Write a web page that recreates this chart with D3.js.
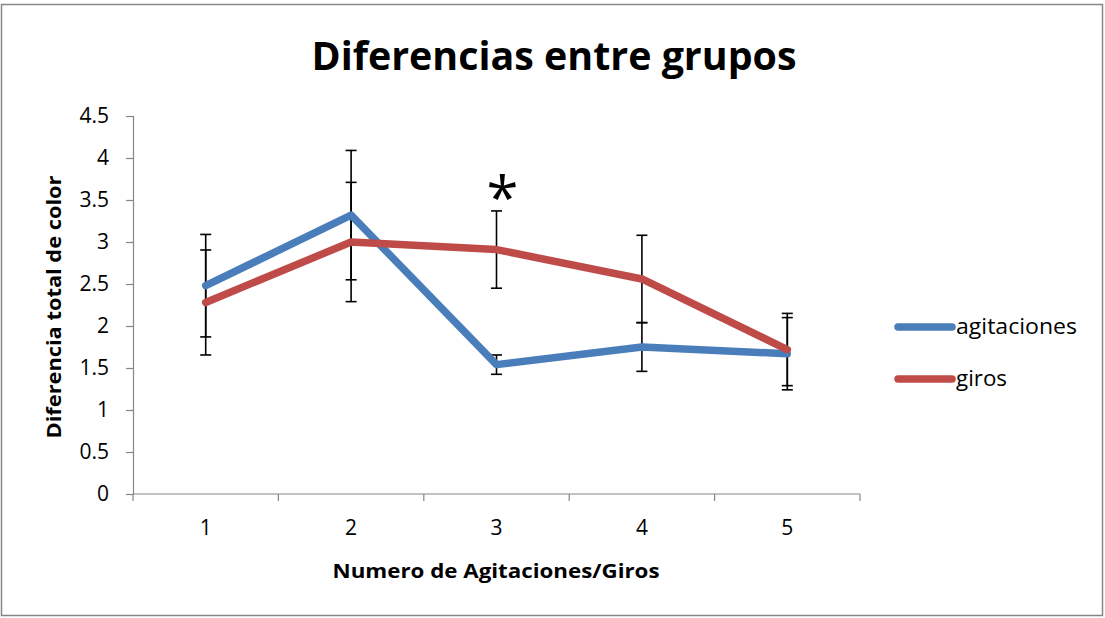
<!DOCTYPE html>
<html>
<head>
<meta charset="utf-8">
<script src="https://cdn.jsdelivr.net/npm/d3@7"></script>
<style>
  html, body { margin: 0; padding: 0; background: #fff; }
  svg { display: block; }
  text { font-family: "Open Sans", Lato, sans-serif; fill: #000; }
</style>
</head>
<body>
<svg id="chart" width="1105" height="618"></svg>
<script>
// Categories on the x axis
const categories = ["1", "2", "3", "4", "5"];
// Series means
const agitaciones = [2.48, 3.32, 1.54, 1.75, 1.67];
const giros = [2.28, 3.00, 2.91, 2.56, 1.72];
// Error bar half-widths
const agitacionesErr = [0.61, 0.77, 0.115, 0.29, 0.43];
const girosErr = [0.625, 0.71, 0.46, 0.52, 0.43];
// Y axis ticks
const yTicks = [0, 0.5, 1, 1.5, 2, 2.5, 3, 3.5, 4, 4.5];
// Category marked as significant
const significant = ["3"];

const series = [
  { name: "agitaciones", values: agitaciones, err: agitacionesErr, color: "#4a7ebb", labelLen: 121 },
  { name: "giros", values: giros, err: girosErr, color: "#be4b48", labelLen: 51 }
];

const svg = d3.select("#chart");
const W = 1105, H = 618;
const m = { left: 133, right: 245, top: 116, bottom: 124 };

// Chart frame
svg.append("rect")
  .attr("x", 1.5).attr("y", 4.5)
  .attr("width", W - 4).attr("height", H - 7)
  .attr("fill", "#fff").attr("stroke", "#868686").attr("stroke-width", 1.5);

const x = d3.scaleBand().domain(categories).range([m.left, W - m.right]);
const y = d3.scaleLinear().domain([0, 4.5]).range([H - m.bottom, m.top]);
const cx = c => x(c) + x.bandwidth() / 2;

// Y axis
const yAxis = svg.append("g")
  .attr("transform", `translate(${m.left},0)`)
  .call(d3.axisLeft(y).tickValues(yTicks).tickSize(7).tickPadding(17)
    .tickFormat(d => d3.format("")(d)));
yAxis.select(".domain").attr("stroke", "#868686").attr("stroke-width", 1.2);
yAxis.selectAll(".tick line").attr("stroke", "#868686").attr("stroke-width", 1.2);
yAxis.selectAll(".tick text").attr("font-size", 21).attr("font-family", "Open Sans").attr("fill", "#000");

// X axis with ticks between categories
const xAxisG = svg.append("g").attr("transform", `translate(0,${y(0)})`);
xAxisG.append("line")
  .attr("x1", m.left).attr("x2", W - m.right)
  .attr("stroke", "#868686").attr("stroke-width", 1.2);
const boundaries = categories.map(c => x(c)).concat([x(categories[categories.length - 1]) + x.bandwidth()]);
xAxisG.selectAll("line.tk").data(boundaries).join("line")
  .attr("class", "tk")
  .attr("x1", d => d).attr("x2", d => d)
  .attr("y1", 0).attr("y2", 7)
  .attr("stroke", "#868686").attr("stroke-width", 1.2);
xAxisG.selectAll("text").data(categories).join("text")
  .attr("x", d => cx(d)).attr("y", 41)
  .attr("text-anchor", "middle").attr("font-size", 21)
  .text(d => d);

// Error bars
const capW = 11;
const eb = svg.append("g");
series.forEach(s => {
  categories.forEach((c, i) => {
    const lo = y(s.values[i] - s.err[i]), hi = y(s.values[i] + s.err[i]);
    const xc = cx(c);
    eb.append("line").attr("x1", xc).attr("x2", xc).attr("y1", lo).attr("y2", hi)
      .attr("stroke", "#000").attr("stroke-width", 1.6);
    [lo, hi].forEach(v => eb.append("line")
      .attr("x1", xc - capW / 2).attr("x2", xc + capW / 2).attr("y1", v).attr("y2", v)
      .attr("stroke", "#000").attr("stroke-width", 1.6));
  });
});

// Lines
const line = d3.line().x((d, i) => cx(categories[i])).y(d => y(d));
series.forEach(s => {
  svg.append("path").datum(s.values)
    .attr("d", line)
    .attr("fill", "none").attr("stroke", s.color)
    .attr("stroke-width", 7.5).attr("stroke-linecap", "round").attr("stroke-linejoin", "round");
});

// Significance marker
significant.forEach(c => {
  const i = categories.indexOf(c);
  const top = d3.max(series, s => s.values[i] + s.err[i]);
  svg.append("text")
    .attr("x", cx(c) + 6).attr("y", y(top) + 8)
    .attr("text-anchor", "middle").attr("font-size", 58).attr("font-family", "DejaVu Sans")
    .text("*");
});

// Title
svg.append("text")
  .attr("x", 554).attr("y", 70)
  .attr("text-anchor", "middle").attr("font-size", 39).attr("font-weight", "bold")
  .attr("textLength", 485).attr("lengthAdjust", "spacingAndGlyphs")
  .text("Diferencias entre grupos");

// Axis titles
svg.append("text")
  .attr("transform", `translate(61,${(y(0) + y(4.5)) / 2 + 2}) rotate(-90)`)
  .attr("text-anchor", "middle").attr("font-size", 20).attr("font-weight", "bold")
  .attr("textLength", 263).attr("lengthAdjust", "spacingAndGlyphs")
  .text("Diferencia total de color");
svg.append("text")
  .attr("x", 496).attr("y", 578)
  .attr("text-anchor", "middle").attr("font-size", 20).attr("font-weight", "bold")
  .attr("textLength", 327).attr("lengthAdjust", "spacingAndGlyphs")
  .text("Numero de Agitaciones/Giros");

// Legend
const lg = svg.append("g");
series.forEach((s, i) => {
  const ly = 327 + i * 52;
  lg.append("line").attr("x1", 898).attr("x2", 952).attr("y1", ly).attr("y2", ly)
    .attr("stroke", s.color).attr("stroke-width", 7.5).attr("stroke-linecap", "round");
  lg.append("text").attr("x", 956).attr("y", ly + 7).attr("font-size", 21)
    .attr("textLength", s.labelLen).attr("lengthAdjust", "spacingAndGlyphs")
    .text(s.name);
});
</script>
</body>
</html>
